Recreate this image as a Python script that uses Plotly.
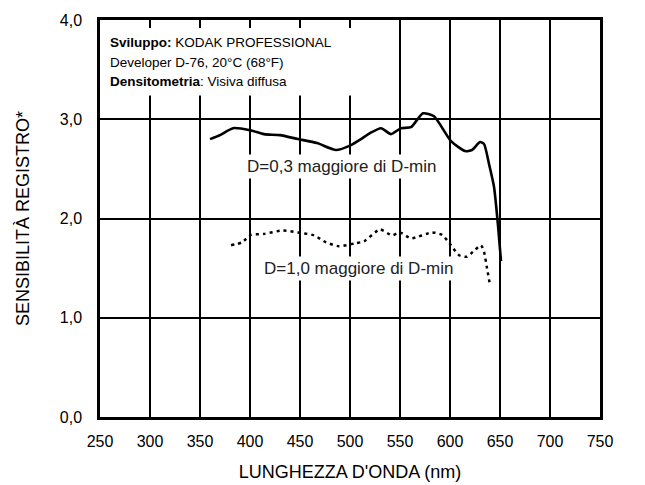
import plotly.graph_objects as go

# Wavelength (nm) and sensitivity for D=0.3 above D-min
wl_03 = [360, 370, 383, 400, 414, 430, 448, 467, 486, 501, 511, 520, 531, 541, 551, 561, 573, 584, 601, 615, 622, 630, 634, 639, 644, 648, 651]
s_03 = [2.80, 2.84, 2.91, 2.89, 2.85, 2.84, 2.80, 2.76, 2.69, 2.74, 2.80, 2.86, 2.91, 2.85, 2.91, 2.92, 3.06, 3.03, 2.78, 2.68, 2.69, 2.77, 2.75, 2.55, 2.32, 1.93, 1.57]

# Wavelength (nm) and sensitivity for D=1.0 above D-min
wl_10 = [381, 392, 401, 414, 433, 448, 464, 476, 489, 505, 514, 530, 542, 550, 561, 582, 592, 601, 609, 617, 623, 631, 634, 637, 640]
s_10 = [1.73, 1.76, 1.835, 1.845, 1.88, 1.86, 1.83, 1.76, 1.72, 1.75, 1.77, 1.89, 1.83, 1.86, 1.80, 1.86, 1.835, 1.73, 1.63, 1.615, 1.665, 1.73, 1.665, 1.50, 1.33]

x_ticks = [250, 300, 350, 400, 450, 500, 550, 600, 650, 700, 750]
y_ticks = [0, 1, 2, 3, 4]
y_ticktext = ["0,0", "1,0", "2,0", "3,0", "4,0"]

info_lines = ["<b>Sviluppo:</b> KODAK PROFESSIONAL",
              "Developer D-76, 20°C (68°F)",
              "<b>Densitometria</b>: Visiva diffusa"]

FONT = "Liberation Sans, Arial, Helvetica, sans-serif"

fig = go.Figure()
fig.add_trace(go.Scatter(x=wl_03, y=s_03, mode="lines",
                         line=dict(color="black", width=2.6, shape="spline", smoothing=0.6),
                         showlegend=False, hoverinfo="skip"))
fig.add_trace(go.Scatter(x=wl_10, y=s_10, mode="lines",
                         line=dict(color="black", width=2.5, shape="spline", smoothing=0.6, dash="3px,4px"),
                         showlegend=False, hoverinfo="skip"))

# white panel behind the info text (covers the grid but keeps the top ticks)
fig.add_shape(type="rect", xref="x", yref="y", x0=251, x1=540, y0=3.24, y1=3.92,
              fillcolor="white", line=dict(width=0), layer="between")
for i, t in enumerate(info_lines):
    fig.add_annotation(x=258, y=3.77 - 0.195 * i, xanchor="left", yanchor="middle",
                       text=t, align="left", showarrow=False,
                       font=dict(family=FONT, size=13.5, color="black"))

fig.add_annotation(x=589, y=2.52, xanchor="right", yanchor="middle",
                   text="D=0,3 maggiore di D-min", showarrow=False, bgcolor="white", borderpad=2,
                   font=dict(family=FONT, size=17, color="#222"))
fig.add_annotation(x=606, y=1.50, xanchor="right", yanchor="middle",
                   text="D=1,0 maggiore di D-min", showarrow=False, bgcolor="white", borderpad=2,
                   font=dict(family=FONT, size=17, color="#222"))

fig.update_layout(
    width=645, height=485,
    margin=dict(l=92, r=53, t=4, b=76),
    plot_bgcolor="white", paper_bgcolor="white",
    font=dict(family=FONT, size=16, color="black"),
    xaxis=dict(range=[250, 750], tickvals=x_ticks, ticktext=[str(v) for v in x_ticks],
               showgrid=True, gridcolor="black", gridwidth=2,
               showline=True, linecolor="black", linewidth=2.5, mirror="ticks",
               ticks="inside", ticklen=7, tickwidth=2, tickcolor="black",
               ticklabelstandoff=8, zeroline=False, ticklabeloverflow="allow",
               title=dict(text="LUNGHEZZA D'ONDA (nm)", font=dict(size=18), standoff=17)),
    yaxis=dict(range=[0, 4], tickvals=y_ticks, ticktext=y_ticktext,
               showgrid=True, gridcolor="black", gridwidth=2,
               showline=True, linecolor="black", linewidth=2.5, mirror="ticks",
               ticks="", ticklabelstandoff=12, zeroline=False, ticklabeloverflow="allow",
               title=dict(text="SENSIBILITÀ REGISTRO*", font=dict(size=18), standoff=26)),
)

fig.write_html("out.html")
